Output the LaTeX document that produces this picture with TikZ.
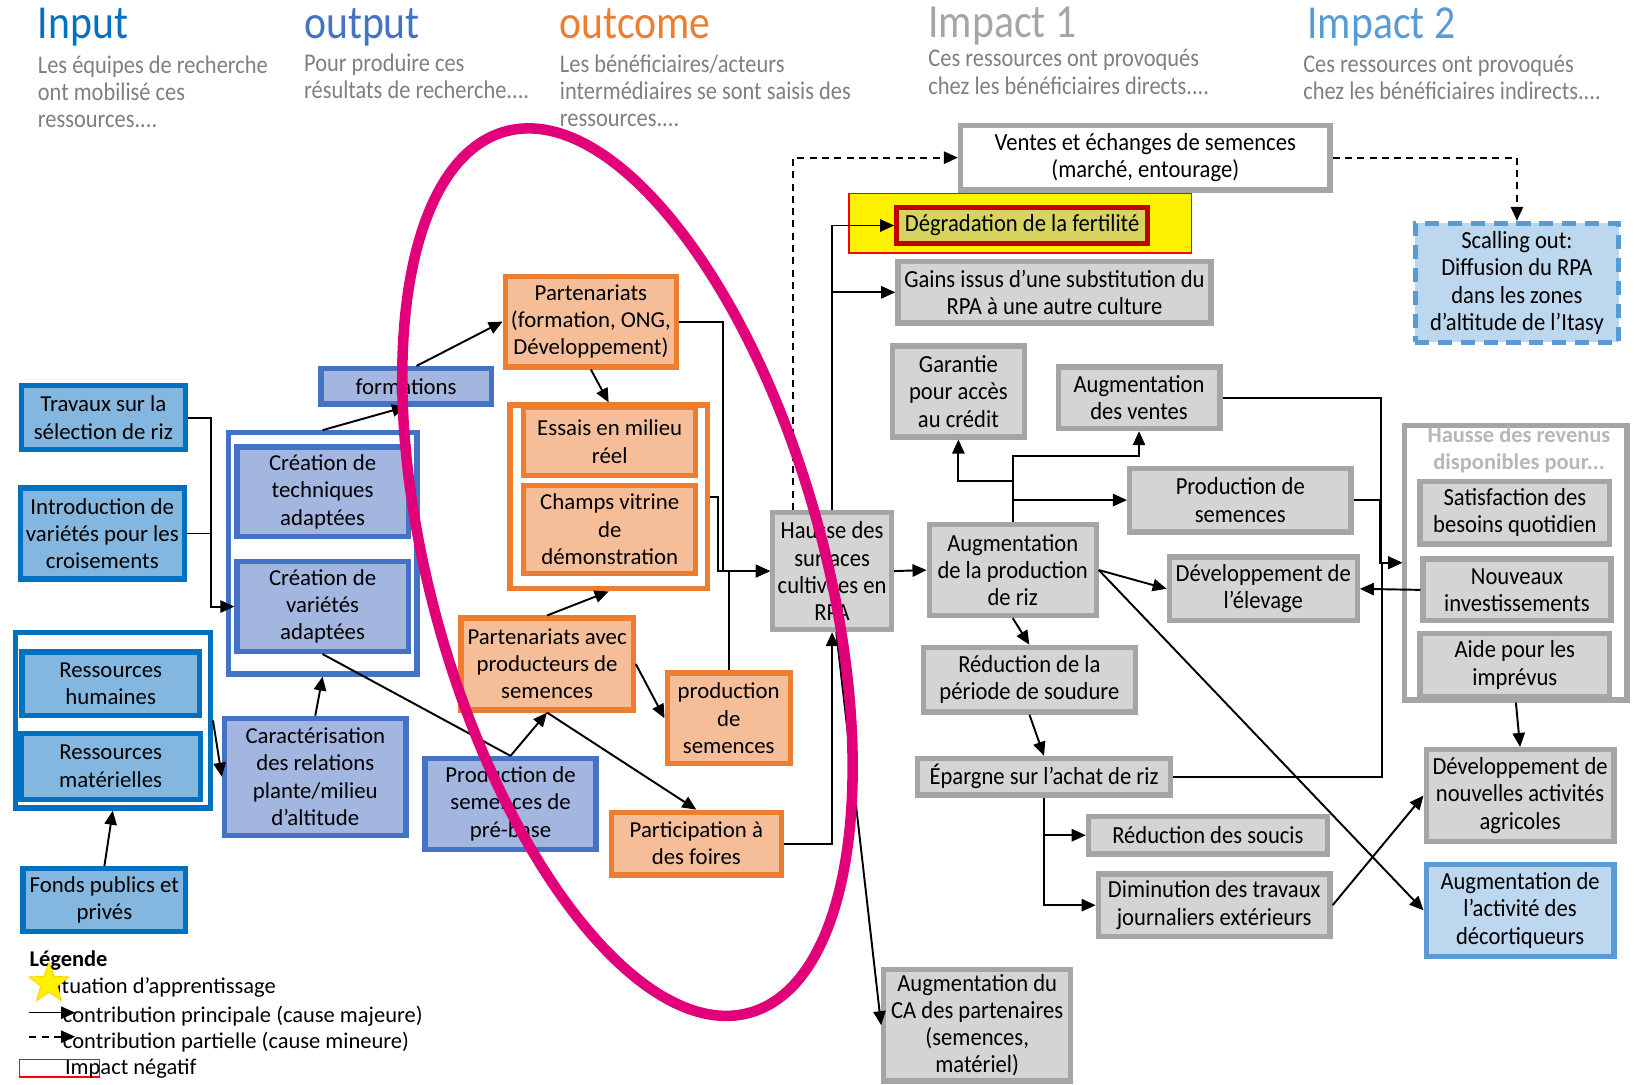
\documentclass[tikz,border=0pt]{standalone}
\usepackage{fontspec}
\setmainfont{Carlito}
\newfontfamily\narrowfont[FakeStretch=0.88]{Carlito}
\newfontfamily\boxnarrow[FakeStretch=0.92]{Carlito}
\usepackage{tikz}
\usetikzlibrary{
    positioning,
    arrows.meta,
    calc,
    shapes.geometric
}

\definecolor{inblue}{HTML}{0070C0}
\definecolor{infill}{HTML}{83B7E0}
\definecolor{outblue}{HTML}{4472C4}
\definecolor{outfill}{HTML}{A3B6E0}
\definecolor{ocorange}{HTML}{ED7D31}
\definecolor{ocfill}{HTML}{F6BE98}
\definecolor{impgray}{HTML}{A5A5A5}
\definecolor{impfill}{HTML}{D4D4D4}
\definecolor{imptwo}{HTML}{5B9BD5}
\definecolor{imptwofill}{HTML}{BDD7EE}
\definecolor{subgray}{HTML}{7F7F7F}
\definecolor{negred}{HTML}{C00000}
\definecolor{negfill}{HTML}{D6D45C}
\definecolor{ovalpink}{HTML}{E2007A}

\newdimen\pxu
\pxu=0.0209cm

\begin{document}
\begin{tikzpicture}[
    x=0.0209cm, y=-0.0209cm,
    sz/.style 2 args={minimum width={#1*\pxu-3pt}, minimum height={#2*\pxu-3pt}},
    box/.style={
        draw, rectangle, line width=3pt, align=center, inner sep=1pt,
        font=\fontsize{13}{15.5}\selectfont
    },
    inbox/.style={box, draw=inblue, fill=infill},
    outbox/.style={box, draw=outblue, fill=outfill},
    ocbox/.style={box, draw=ocorange, fill=ocfill},
    impbox/.style={box, draw=impgray, fill=impfill,
        font={\boxnarrow\fontsize{14}{15.5}\selectfont}},
    imptwobox/.style={impbox, draw=imptwo, fill=imptwofill},
    group/.style={draw, rectangle, line width=3pt, fill=white},
    heading/.style={anchor=base west, inner sep=0pt,
        font={\narrowfont\fontsize{27}{30}\selectfont}},
    subhead/.style={anchor=north west, inner sep=0pt, align=left, text=subgray,
        font={\narrowfont\fontsize{14.5}{15.5}\selectfont}},
    legendtext/.style={anchor=west, inner sep=0pt, font=\fontsize{12.8}{14}\selectfont},
    arrow/.style={-{Triangle[length=8pt,width=7pt]}, line width=1.1pt},
    dasharrow/.style={arrow, dash pattern=on 4pt off 3pt},
    line/.style={line width=1.1pt}
]
\useasboundingbox (0,0) rectangle (1568,1039);

% ============================== HEADINGS ==============================
\node[heading, text=inblue] (h_input) at (36,37) {Input};
\node[subhead] (s_input) at (36,53) {Les équipes de recherche\\ont mobilisé ces\\ressources....};
\node[heading, text=outblue] (h_output) at (291,37) {output};
\node[subhead] (s_output) at (291,51) {Pour produire ces\\résultats de recherche....};
\node[heading, text=ocorange] (h_outcome) at (536,37) {outcome};
\node[subhead] (s_outcome) at (536,52) {Les bénéficiaires/acteurs\\intermédiaires se sont saisis des\\ressources....};
\node[heading, text=impgray] (h_imp1) at (889,36) {Impact 1};
\node[subhead] (s_imp1) at (889,47) {Ces ressources ont provoqués\\chez les bénéficiaires directs....};
\node[heading, text=imptwo] (h_imp2) at (1252,37) {Impact 2};
\node[subhead] (s_imp2) at (1248,52) {Ces ressources ont provoqués\\chez les bénéficiaires indirects....};

% ============================== INPUT ==============================
\node[inbox, sz={162}{66}] (trav) at (99,400) {Travaux sur la\\sélection de riz};
\node[inbox, sz={162}{92}] (intro) at (98,511) {Introduction de\\variétés pour les\\croisements};
\node[group, draw=inblue, sz={192}{173}] (rescont) at (108,690) {};
\node[inbox, sz={175}{66}] (reshum) at (106,655) {Ressources\\humaines};
\node[inbox, sz={177}{68}] (resmat) at (106,734) {Ressources\\matérielles};
\node[inbox, sz={161}{65}] (fonds) at (100,862) {Fonds publics et\\privés};

% ============================== OUTPUT ==============================
\node[outbox, sz={168}{39}] (form) at (389,370) {formations};
\node[group, draw=outblue, sz={186}{236}] (outcont) at (309,530) {};
\node[outbox, sz={169}{91}] (crtech) at (309,471) {Création de\\techniques\\adaptées};
\node[outbox, sz={169}{91}] (crvar) at (309,581) {Création de\\variétés\\adaptées};
\node[outbox, sz={179}{117}] (caract) at (302,744) {Caractérisation\\des relations\\plante/milieu\\d’altitude};
\node[outbox, sz={169}{92}] (prebase) at (489,770) {Production de\\semences de\\pré-base};

% ============================== OUTCOME ==============================
\node[ocbox, sz={169}{92}] (part1) at (566,308) {Partenariats\\(formation, ONG,\\Développement)};
\node[group, draw=ocorange, sz={194}{181}] (occont) at (583,476) {};
\node[ocbox, sz={170}{70}] (essais) at (584,423) {Essais en milieu\\réel};
\node[ocbox, sz={170}{89}] (demo) at (584,507) {Champs vitrine\\de\\démonstration};
\node[ocbox, sz={170}{93}] (part2) at (524,636) {Partenariats avec\\producteurs de\\semences};
\node[ocbox, sz={123}{92}] (prodsem) at (698,688) {production\\de\\semences};
\node[ocbox, sz={168}{65}] (foires) at (667,808) {Participation à\\des foires};

% ============================== IMPACT 1 ==============================
\node[impbox, sz={119}{117}] (hausse) at (797,547) {Hausse des\\surfaces\\cultivées en\\RPA};
\node[impbox, fill=white, sz={359}{67}] (ventes) at (1097,151) {Ventes et échanges de semences\\(marché, entourage)};
\node[draw=red, line width=0.8pt, fill=yellow, sz={333}{62}] (negzone) at (977,214) {};
\node[impbox, draw=negred, fill=negfill, sz={245}{40}] (degrad) at (979,216) {Dégradation de la fertilité};
\node[impbox, sz={305}{64}] (gains) at (1010,280) {Gains issus d’une substitution du\\RPA à une autre culture};
\node[impbox, sz={132}{92}] (garantie) at (918,375) {Garantie\\pour accès\\au crédit};
\node[impbox, sz={160}{64}] (augvent) at (1091,381) {Augmentation\\des ventes};
\node[impbox, sz={217}{66}] (prodsem2) at (1188,479) {Production de\\semences};
\node[impbox, sz={165}{92}] (augprod) at (970,546) {Augmentation\\de la production\\de riz};
\node[impbox, sz={185}{66}] (elevage) at (1210,564) {Développement de\\l’élevage};
\node[impbox, sz={208}{67}] (soudure) at (986,651) {Réduction de la\\période de soudure};
\node[impbox, sz={247}{40}] (epargne) at (1000,744) {Épargne sur l’achat de riz};
\node[impbox, sz={234}{41}] (soucis) at (1157,800) {Réduction des soucis};
\node[impbox, sz={227}{65}] (dimin) at (1163,867) {Diminution des travaux\\journaliers extérieurs};
\node[impbox, sz={184}{112}] (ca) at (936,982) {Augmentation du\\CA des partenaires\\(semences,\\matériel)};

% ============================== IMPACT 2 ==============================
\node[imptwobox, dash pattern=on 8pt off 5pt, sz={200}{119}] (scal) at (1453,271) {Scalling out:\\Diffusion du RPA\\dans les zones\\d’altitude de l’Itasy};
\node[group, draw=impgray, sz={218}{268}] (revenus) at (1452,539) {};
\node[text=impgray!80, align=center, inner sep=0pt, font=\bfseries\fontsize{12.8}{15}\selectfont] (revtitle) at (1455,431) {Hausse des revenus\\disponibles pour...};
\node[impbox, sz={187}{65}] (satisf) at (1451,491) {Satisfaction des\\besoins quotidien};
\node[impbox, sz={185}{64}] (nouveaux) at (1453,565) {Nouveaux\\investissements};
\node[impbox, sz={187}{65}] (aide) at (1451,637) {Aide pour les\\imprévus};
\node[impbox, sz={185}{93}] (nouvact) at (1456,762) {Développement de\\nouvelles activités\\agricoles};
\node[imptwobox, sz={185}{93}] (decort) at (1456,872) {Augmentation de\\l’activité des\\décortiqueurs};

% ============================== CONNECTIONS ==============================
% Input to output
\draw[arrow] (trav.east) -- ++(22,0) |- (crvar.west);
\draw[line] (intro.east) -- ++(23,0);
\draw[arrow] (rescont.east) -- (caract.west);
\draw[arrow] (fonds.north) -- (rescont.south);
\draw[arrow] (caract.north) -- (outcont.south);
\draw[arrow] (outcont.north) -- (form.south);
\draw[line] (crvar.south) -- (prebase.north);

% Output to outcome
\draw[arrow] ($(form.north)+(10,0)$) -- (part1.west);
\draw[arrow] (part1.south) -- (occont.north);
\draw[arrow] (prebase.north) -- (part2.south);
\draw[arrow] (part2.north) -- (occont.south);
\draw[arrow] (part2.east) -- (prodsem.west);
\draw[arrow] (part2.south) -- (foires.north);

% Outcome to impact 1
\draw[arrow] (part1.east) -- ++(42,0) |- (hausse.west);
\draw[arrow] (occont.east) -- ++(8,0) |- (hausse.west);
\draw[arrow] (prodsem.north) |- (hausse.west);
\draw[arrow] (foires.east) -| (hausse.south);
\draw[arrow] ($(hausse.south)+(4,0)$) -- (ca.west);
\draw[arrow] (hausse.north) |- (degrad.west);
\draw[arrow] (hausse.north) |- (gains.west);
\draw[dasharrow] ($(hausse.north)+(-37,0)$) |- (ventes.west);
\draw[dasharrow] (ventes.east) -| (scal.north);
\draw[arrow] (hausse.east) -- (augprod.west);

% Impact 1 chains
\draw[arrow] (augprod.north) -- ++(0,-63) -| (augvent.south);
\draw[arrow] (augprod.north) -- ++(0,-39) -| (garantie.south);
\draw[arrow] (augprod.north) |- (prodsem2.west);
\draw[arrow] (augprod.east) -- (elevage.west);
\draw[arrow] (augprod.east) -- (decort.west);
\draw[arrow] (augprod.south) -- (soudure.north);
\draw[arrow] (soudure.south) -- (epargne.north);
\draw[arrow] (epargne.south) |- (soucis.west);
\draw[arrow] (epargne.south) |- (dimin.west);

% Impact 1 to impact 2
\draw[arrow] (augvent.east) -- ++(152,0) |- (revenus.west);
\draw[arrow] (epargne.east) -- ++(200,0) |- (revenus.west);
\draw[arrow] (prodsem2.east) -- ++(25,0) |- (revenus.west);
\draw[arrow] (nouveaux.west) -- (elevage.east);
\draw[arrow] (revenus.south) -- (nouvact.north);
\draw[arrow] (dimin.east) -- (nouvact.west);

% Oval
\draw[ovalpink, line width=6pt, rotate around={15.5:(601,548)}] (601,548) ellipse [x radius=188, y radius=438];

% ============================== LEGEND ==============================
\node[legendtext, font=\bfseries\fontsize{12.8}{14}\selectfont] (leg_title) at (28,920) {Légende};
\node[legendtext] (leg_star) at (44,946) {Situation d’apprentissage};
\node[star, star points=5, star point ratio=2.4, minimum size=24pt, inner sep=0pt, fill=yellow, draw=yellow!70!orange, line width=0.5pt] (star_icon) at (47,942) {};
\coordinate (leg_a1) at (28,970);
\coordinate (leg_a2) at (72,970);
\draw[arrow, line width=0.9pt] (leg_a1) -- (leg_a2);
\node[legendtext] (leg_main) at (60,973) {contribution principale (cause majeure)};
\coordinate (leg_d1) at (28,993);
\coordinate (leg_d2) at (72,993);
\draw[dasharrow, line width=0.9pt] (leg_d1) -- (leg_d2);
\node[legendtext] (leg_minor) at (60,998) {contribution partielle (cause mineure)};
\node[draw=red, line width=0.7pt, sz={82}{22}] (leg_neg) at (57,1023) {};
\node[legendtext] (leg_negtext) at (62,1024) {Impact négatif};

\end{tikzpicture}
\end{document}
